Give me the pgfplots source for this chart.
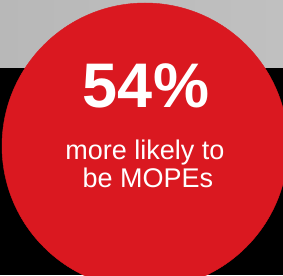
\documentclass[border=0pt]{standalone}
\usepackage{pgfplots}
\pgfplotsset{compat=1.18}
\usepackage{fontspec}
\setmainfont{Liberation Sans}
\definecolor{bigred}{RGB}{218,24,32}
\definecolor{gA}{RGB}{184,184,184}
\definecolor{gB}{RGB}{210,210,210}
\definecolor{gC}{RGB}{192,192,192}
\begin{document}
\begin{tikzpicture}
\begin{axis}[
  width=283pt, height=275pt, scale only axis,
  xmin=0, xmax=283, ymin=0, ymax=275,
  hide axis, clip=true, clip marker paths=true,
]
\fill[black] (axis cs:0,0) rectangle (axis cs:283,207);
\shade[left color=gA, middle color=gB, right color=gC] (axis cs:0,207) rectangle (axis cs:283,275);
\addplot[only marks, mark=*, mark size=143pt, mark options={fill=bigred, draw=bigred}] coordinates {(145,129)};
\node[anchor=base, text=white, font=\fontsize{63}{63}\selectfont\bfseries, inner sep=0pt] at (axis cs:146,167) {54\%};
\node[anchor=base, text=white, font=\fontsize{27}{28}\selectfont, inner sep=0pt] at (axis cs:145,115) {more likely to};
\node[anchor=base, text=white, font=\fontsize{27}{28}\selectfont, inner sep=0pt] at (axis cs:148,87) {be MOPEs};
\end{axis}
\end{tikzpicture}
\end{document}
